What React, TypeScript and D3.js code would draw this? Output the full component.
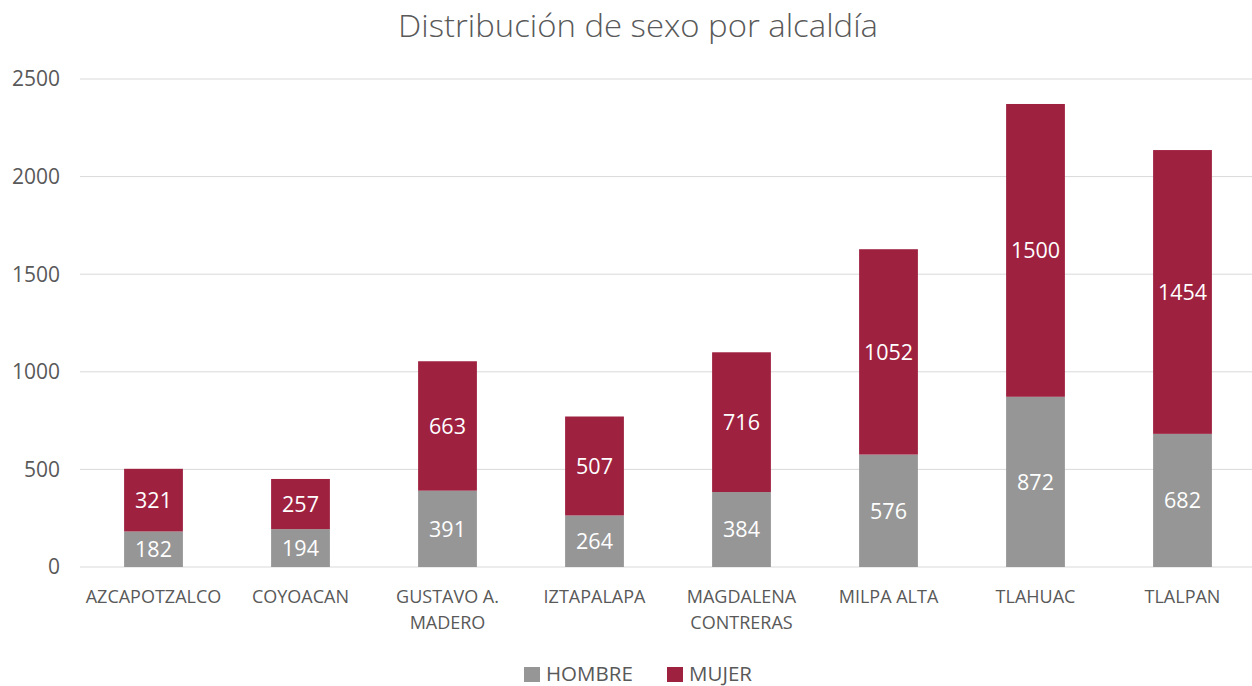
import React from "react";
import * as d3 from "d3";

const categories = ["AZCAPOTZALCO", "COYOACAN", "GUSTAVO A. MADERO", "IZTAPALAPA", "MAGDALENA CONTRERAS", "MILPA ALTA", "TLAHUAC", "TLALPAN"];
const categoryLines = [["AZCAPOTZALCO"], ["COYOACAN"], ["GUSTAVO A.", "MADERO"], ["IZTAPALAPA"], ["MAGDALENA", "CONTRERAS"], ["MILPA ALTA"], ["TLAHUAC"], ["TLALPAN"]];
const hombre = [182, 194, 391, 264, 384, 576, 872, 682];
const mujer = [321, 257, 663, 507, 716, 1052, 1500, 1454];
const yTicks = [0, 500, 1000, 1500, 2000, 2500];
const seriesNames = ["HOMBRE", "MUJER"];
const colors = ["#969696", "#9E2140"];
const title = "Distribución de sexo por alcaldía";

const W = 1252, H = 686;
const FONT = "'Open Sans', 'Noto Sans', sans-serif";

export default function App() {
  const x = d3.scaleBand().domain(categories).range([80, 1256]).paddingInner(0.6).paddingOuter(0.3);
  const y = d3.scaleLinear().domain([0, 2500]).range([567, 79]);
  const bw = x.bandwidth();
  return (
    <svg width={W} height={H} style={{ position: "absolute", left: 0, top: 0, background: "#fff" }} fontFamily={FONT}>
      <text x={638} y={37} textAnchor="middle" fontSize={31} fontWeight={300} fill="#595959" textLength={480} lengthAdjust="spacingAndGlyphs">{title}</text>
      {yTicks.map((t) => (
        <g key={t}>
          <line x1={80} x2={1252} y1={y(t)} y2={y(t)} stroke="#d9d9d9" strokeWidth={1} />
          <text x={60} y={y(t)} dy="0.35em" textAnchor="end" fontSize={21} fill="#595959">{t}</text>
        </g>
      ))}
      {categories.map((c, i) => {
        const x0 = x(c)!;
        const h = hombre[i], m = mujer[i];
        return (
          <g key={c}>
            <rect x={x0} y={y(h)} width={bw} height={y(0) - y(h)} fill={colors[0]} />
            <rect x={x0} y={y(h + m)} width={bw} height={y(h) - y(h + m)} fill={colors[1]} />
            <text x={x0 + bw / 2} y={(y(0) + y(h)) / 2} dy="0.36em" textAnchor="middle" fontSize={21.5} fill="#fff">{h}</text>
            <text x={x0 + bw / 2} y={(y(h) + y(h + m)) / 2} dy="0.36em" textAnchor="middle" fontSize={21.5} fill="#fff">{m}</text>
            {categoryLines[i].map((ln, j) => (
              <text key={j} x={x0 + bw / 2} y={603 + j * 26} textAnchor="middle" fontSize={18} fill="#595959">{ln}</text>
            ))}
          </g>
        );
      })}
      {seriesNames.map((s, i) => {
        const lx = i === 0 ? 524 : 667;
        return (
          <g key={s}>
            <rect x={lx} y={667} width={16} height={15} fill={colors[i]} />
            <text x={lx + 22} y={681} fontSize={20.5} fill="#595959">{s}</text>
          </g>
        );
      })}
    </svg>
  );
}
